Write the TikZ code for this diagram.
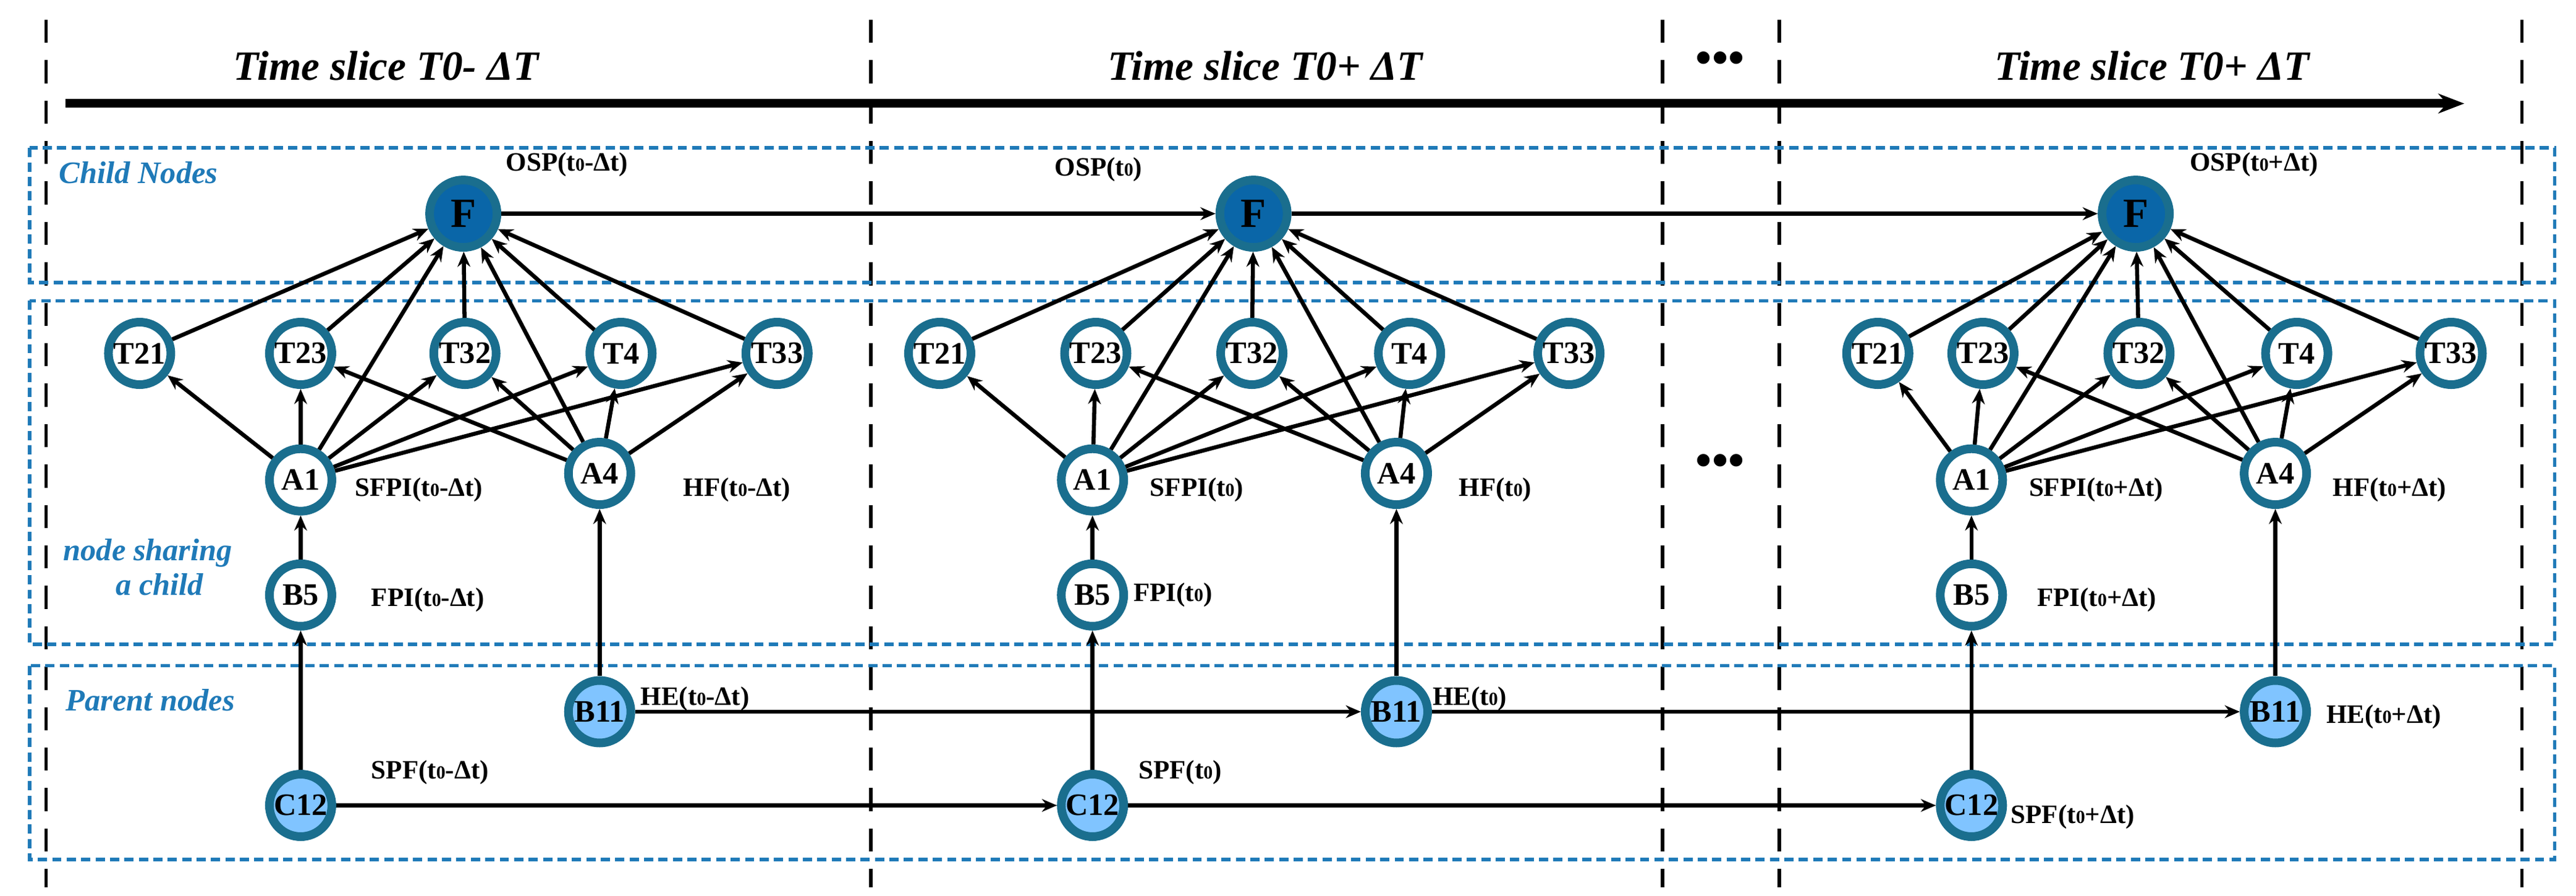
\documentclass[tikz,border=0pt]{standalone}
\usepackage{fontspec}
\setmainfont{Liberation Serif}
\usetikzlibrary{arrows.meta}
\definecolor{ring}{HTML}{1A6E8E}
\definecolor{dark}{HTML}{0A66A8}
\definecolor{light}{HTML}{80C4FF}
\definecolor{boxc}{HTML}{1F7AB8}
\begin{document}
\begin{tikzpicture}[x=0.1cm,y=-0.1cm,
  nd/.style={circle,draw=ring,line width=15pt,fill=white,minimum size=3.8cm,inner sep=0pt,font=\fontsize{54}{56}\selectfont\bfseries},
  fn/.style={nd,fill=dark,minimum size=4.1cm,font=\fontsize{72}{72}\selectfont\bfseries},
  pn/.style={nd,fill=light},
  lab/.style={font=\fontsize{46}{48}\selectfont\bfseries,inner sep=0pt,anchor=west},
  box/.style={draw=boxc,dashed,line width=6pt,dash pattern=on 16pt off 9pt},
  btxt/.style={text=boxc,font=\fontsize{54}{60}\selectfont\bfseries\itshape,inner sep=0pt,align=center},
  vl/.style={draw=black,line width=6pt,dash pattern=on 40pt off 30pt},
  ar/.style={-{Stealth[length=26pt,width=22pt]},line width=7pt},
  title/.style={font=\fontsize{72}{74}\selectfont\bfseries\itshape,inner sep=0pt}]
\useasboundingbox (0,0) rectangle (1568,545);
\foreach \x in {28,530,1012,1083,1535} \draw[vl] (\x,12) -- (\x,540);
\node[title] (t1) at (235,40) {Time slice T0- \textit{Δ}T};
\node[title] (t2) at (770,40) {Time slice T0+ \textit{Δ}T};
\node[title] (t3) at (1310,40) {Time slice T0+ \textit{Δ}T};
\node[font=\fontsize{80}{80}\selectfont\bfseries] (d1) at (1047,38) {•••};
\node[font=\fontsize{80}{80}\selectfont\bfseries] (d2) at (1047,283) {•••};
\coordinate (as) at (40,63); \coordinate (ae) at (1500,63);
\draw[-{Stealth[length=45pt,width=34pt]},line width=15pt] (as) -- (ae);
\draw[box] (18,90) rectangle (1555,172);
\draw[box] (18,183) rectangle (1555,392);
\draw[box] (18,405) rectangle (1555,523);
\node[btxt,anchor=west] (bl1) at (36,105) {Child Nodes};
\node[btxt] (bl2) at (90,345) {node sharing\\\ \ \ a child};
\node[btxt,anchor=west] (bl3) at (40,426) {Parent nodes};
\foreach \s/\f/\ta/\tb/\tc/\td/\te/\a/\b in {
  1/282/85/183/283/378/473/183/365,
  2/763/572/667/762/858/955/665/850,
  3/1300/1143/1207/1302/1398/1492/1200/1385}{
  \node[fn] (F\s) at (\f,130) {F};
  \node[nd] (Ta\s) at (\ta,215) {T21};
  \node[nd] (Tb\s) at (\tb,215) {T23};
  \node[nd] (Tc\s) at (\tc,215) {T32};
  \node[nd] (Td\s) at (\td,215) {T4};
  \node[nd] (Te\s) at (\te,215) {T33};
  \node[nd] (A1\s) at (\a,292) {A1};
  \node[nd] (A4\s) at (\b,288) {A4};
  \node[nd] (B5\s) at (\a,362) {B5};
  \node[pn] (B11\s) at (\b,433) {B11};
  \node[pn] (C12\s) at (\a,490) {C12};
  \foreach \t in {Ta,Tb,Tc,Td,Te} \draw[ar] (\t\s) -- (F\s);
  \draw[ar] (A1\s) -- (F\s);
  \draw[ar] (A4\s) -- (F\s);
  \foreach \t in {Ta,Tb,Tc,Td,Te} \draw[ar] (A1\s) -- (\t\s);
  \foreach \t in {Tb,Tc,Td,Te} \draw[ar] (A4\s) -- (\t\s);
  \draw[ar] (B5\s) -- (A1\s);
  \draw[ar] (C12\s) -- (B5\s);
  \draw[ar] (B11\s) -- (A4\s);
}
\foreach \i/\j in {1/2,2/3}{
  \draw[ar] (F\i) -- (F\j);
  \draw[ar] (B11\i) -- (B11\j);
  \draw[ar] (C12\i) -- (C12\j);
}
\newcommand{\tz}{t{\fontsize{32}{32}\selectfont 0}}
\node[lab] (l1) at (308,100) {OSP(\tz-Δt)};
\node[lab] (l2) at (642,103) {OSP(\tz)};
\node[lab] (l3) at (1333,100) {OSP(\tz+Δt)};
\node[lab] (l4) at (216,298) {SFPI(\tz-Δt)};
\node[lab] (l5) at (416,298) {HF(\tz-Δt)};
\node[lab] (l6) at (226,365) {FPI(\tz-Δt)};
\node[lab] (l7) at (390,425) {HE(\tz-Δt)};
\node[lab] (l8) at (226,470) {SPF(\tz-Δt)};
\node[lab] (l9) at (700,298) {SFPI(\tz)};
\node[lab] (l10) at (888,298) {HF(\tz)};
\node[lab] (l11) at (690,362) {FPI(\tz)};
\node[lab] (l12) at (872,425) {HE(\tz)};
\node[lab] (l13) at (693,470) {SPF(\tz)};
\node[lab] (l14) at (1235,298) {SFPI(\tz+Δt)};
\node[lab] (l15) at (1420,298) {HF(\tz+Δt)};
\node[lab] (l16) at (1240,365) {FPI(\tz+Δt)};
\node[lab] (l17) at (1416,436) {HE(\tz+Δt)};
\node[lab] (l18) at (1224,497) {SPF(\tz+Δt)};
\end{tikzpicture}
\end{document}
